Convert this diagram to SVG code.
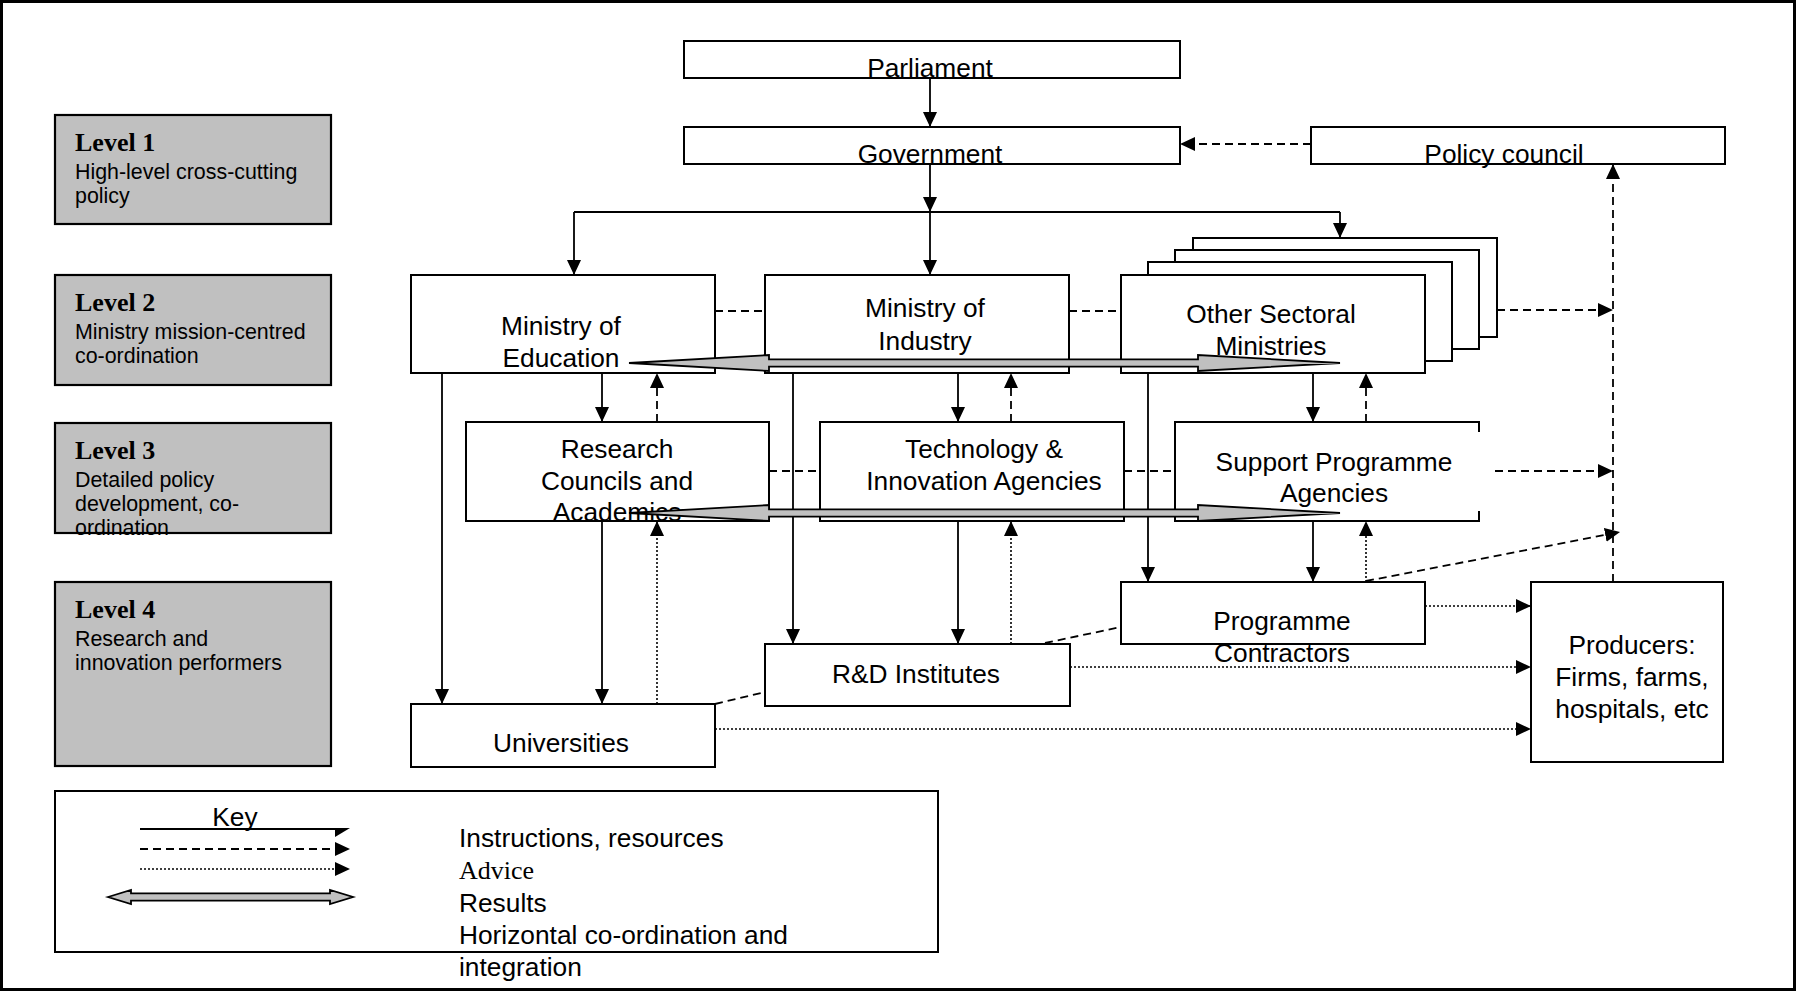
<svg xmlns="http://www.w3.org/2000/svg" width="1796" height="991" viewBox="0 0 1796 991">
<style>
.box{fill:#fff;stroke:#000;stroke-width:2}
.lvl{fill:#c0c0c0;stroke:#000;stroke-width:2.2}
.t{font-family:"Liberation Sans",Arial,sans-serif;font-size:26.3px;fill:#000}
.tc{font-family:"Liberation Sans",Arial,sans-serif;font-size:26.3px;fill:#000;text-anchor:middle}
.lt{font-family:"Liberation Serif","Times New Roman",serif;font-size:26px;font-weight:bold;fill:#000}
.ld{font-family:"Liberation Sans",Arial,sans-serif;font-size:21.4px;fill:#000}
.sv{font-family:"Liberation Serif","Times New Roman",serif;font-size:26px;fill:#000}
.s{fill:none;stroke:#000;stroke-width:1.8}
.d{fill:none;stroke:#000;stroke-width:1.8;stroke-dasharray:8 5}
.o{fill:none;stroke:#000;stroke-width:1.6;stroke-dasharray:2 2}
.res{fill:#c0c0c0;stroke:#000;stroke-width:1.8}
</style>
<defs>
<marker id="ah" markerUnits="userSpaceOnUse" markerWidth="15" markerHeight="14" viewBox="0 0 15 14" refX="15" refY="7" orient="auto"><path d="M0,0 L15,7 L0,14 z" fill="#000"/></marker>
</defs>
<rect x="1.5" y="1.5" width="1793" height="988" fill="#fff" stroke="#000" stroke-width="3"/>

<g id="level1"><rect class="lvl" x="55" y="115" width="276" height="109"/><text class="lt" x="75" y="151">Level 1</text><text class="ld" x="75" y="179">High-level cross-cutting</text><text class="ld" x="75" y="203">policy</text></g>
<g id="level2"><rect class="lvl" x="55" y="275" width="276" height="110"/><text class="lt" x="75" y="311">Level 2</text><text class="ld" x="75" y="339">Ministry mission-centred</text><text class="ld" x="75" y="363">co-ordination</text></g>
<g id="level3"><rect class="lvl" x="55" y="423" width="276" height="110"/><text class="lt" x="75" y="459">Level 3</text><text class="ld" x="75" y="487">Detailed policy</text><text class="ld" x="75" y="511">development, co-</text><text class="ld" x="75" y="535">ordination</text></g>
<g id="level4"><rect class="lvl" x="55" y="582" width="276" height="184"/><text class="lt" x="75" y="618">Level 4</text><text class="ld" x="75" y="646">Research and</text><text class="ld" x="75" y="670">innovation performers</text></g>

<g id="parliament"><rect class="box" x="684" y="41" width="496" height="37"/><text class="tc" x="930" y="77">Parliament</text></g>
<g id="government"><rect class="box" x="684" y="127" width="496" height="37"/><text class="tc" x="930" y="163">Government</text></g>
<g id="policy-council"><rect class="box" x="1311" y="127" width="414" height="37"/><text class="tc" x="1504" y="163">Policy council</text></g>

<g id="ministry-education"><rect class="box" x="411" y="275" width="304" height="98"/><text class="tc" x="561" y="335">Ministry of</text><text class="tc" x="561" y="367">Education</text></g>
<g id="ministry-industry"><rect class="box" x="765" y="275" width="304" height="98"/><text class="tc" x="925" y="317">Ministry of</text><text class="tc" x="925" y="350">Industry</text></g>
<g id="other-ministries">
<rect class="box" x="1193" y="238" width="304" height="99"/>
<rect class="box" x="1175" y="250" width="304" height="99"/>
<rect class="box" x="1148" y="262" width="304" height="99"/>
<rect class="box" x="1121" y="275" width="304" height="98"/>
<text class="tc" x="1271" y="323">Other Sectoral</text><text class="tc" x="1271" y="355">Ministries</text></g>

<g id="research-councils"><rect class="box" x="466" y="422" width="303" height="99"/><text class="tc" x="617" y="458">Research</text><text class="tc" x="617" y="490">Councils and</text><text class="tc" x="617" y="521">Academics</text></g>
<g id="tech-agencies"><rect class="box" x="820" y="422" width="304" height="99"/><text class="tc" x="984" y="458">Technology &amp;</text><text class="tc" x="984" y="490">Innovation Agencies</text></g>
<g id="support-agencies"><path class="s" style="stroke-width:2" d="M1479,432 V422 H1175 V521 H1479 V511"/><text class="tc" x="1334" y="471">Support Programme</text><text class="tc" x="1334" y="502">Agencies</text></g>

<g id="programme-contractors"><rect class="box" x="1121" y="582" width="304" height="62"/><text class="tc" x="1282" y="630">Programme</text><text class="tc" x="1282" y="662">Contractors</text></g>
<g id="rd-institutes"><rect class="box" x="765" y="644" width="305" height="62"/><text class="tc" x="916" y="683">R&amp;D Institutes</text></g>
<g id="universities"><rect class="box" x="411" y="704" width="304" height="63"/><text class="tc" x="561" y="752">Universities</text></g>
<g id="producers"><rect class="box" x="1531" y="582" width="192" height="180"/><text class="tc" x="1632" y="654">Producers:</text><text class="tc" x="1632" y="686">Firms, farms,</text><text class="tc" x="1632" y="718">hospitals, etc</text></g>

<g id="connectors">
<path class="s" d="M930,78 V127" marker-end="url(#ah)"/>
<path class="s" d="M930,164 V212" marker-end="url(#ah)"/>
<path class="s" d="M930,212 V275" marker-end="url(#ah)"/>
<path class="s" d="M574,212 H1340"/>
<path class="s" d="M574,212 V275" marker-end="url(#ah)"/>
<path class="s" d="M1340,212 V238" marker-end="url(#ah)"/>
<path class="s" d="M602,373 V422" marker-end="url(#ah)"/>
<path class="s" d="M958,373 V422" marker-end="url(#ah)"/>
<path class="s" d="M1313,373 V422" marker-end="url(#ah)"/>
<path class="s" d="M442,373 V704" marker-end="url(#ah)"/>
<path class="s" d="M793,373 V644" marker-end="url(#ah)"/>
<path class="s" d="M1148,373 V582" marker-end="url(#ah)"/>
<path class="s" d="M602,521 V704" marker-end="url(#ah)"/>
<path class="s" d="M958,521 V644" marker-end="url(#ah)"/>
<path class="s" d="M1313,521 V582" marker-end="url(#ah)"/>

<path class="d" d="M657,422 V373" marker-end="url(#ah)"/>
<path class="d" d="M1011,422 V373" marker-end="url(#ah)"/>
<path class="d" d="M1366,422 V373" marker-end="url(#ah)"/>
<path class="d" d="M715,311 H765 M1069,311 H1121"/>
<path class="d" d="M769,471 H820 M1124,471 H1175"/>
<path class="d" d="M1497,310 H1613" marker-end="url(#ah)"/>
<path class="d" d="M1495,471 H1613" marker-end="url(#ah)"/>
<path class="d" d="M1613,582 V164" marker-end="url(#ah)"/>
<path class="d" d="M1311,144 H1180" marker-end="url(#ah)"/>
<path class="d" d="M1366,581 L1620,532" marker-end="url(#ah)"/>
<path class="d" d="M715,704 L765,692 M1045,643 L1121,627"/>

<path class="o" d="M657,704 V521" marker-end="url(#ah)"/>
<path class="o" d="M1011,644 V521" marker-end="url(#ah)"/>
<path class="o" d="M1366,582 V521" marker-end="url(#ah)"/>
<path class="o" d="M1425,606 H1531" marker-end="url(#ah)"/>
<path class="o" d="M1070,667 H1531" marker-end="url(#ah)"/>
<path class="o" d="M715,729 H1531" marker-end="url(#ah)"/>

<path class="res" d="M629,363 L769,355 L769,359.3 L1198,359.3 L1198,355 L1340,363 L1198,371 L1198,366.7 L769,366.7 L769,371 z"/>
<path class="res" d="M629,513 L769,505 L769,509.3 L1198,509.3 L1198,505 L1340,513 L1198,521 L1198,516.7 L769,516.7 L769,521 z"/>
</g>

<g id="key">
<rect class="box" x="55" y="791" width="883" height="161"/>
<text class="tc" x="235" y="826">Key</text>
<path class="s" d="M140,829 H336"/><path d="M335,828 L350,828 L335,837 z" fill="#000"/>
<path class="d" d="M140,849 H336"/><path d="M335,842 L350,849 L335,856 z" fill="#000"/>
<path class="o" d="M140,869 H336"/><path d="M335,862 L350,869 L335,876 z" fill="#000"/>
<path class="res" d="M108,897 L131,890 L131,893.3 L330,893.3 L330,890 L353,897 L330,904 L330,900.7 L131,900.7 L131,904 z"/>
<text class="t" x="459" y="847">Instructions, resources</text>
<text class="sv" x="459" y="879">Advice</text>
<text class="t" x="459" y="912">Results</text>
<text class="t" x="459" y="944">Horizontal co-ordination and</text>
<text class="t" x="459" y="976">integration</text>
</g>
</svg>
